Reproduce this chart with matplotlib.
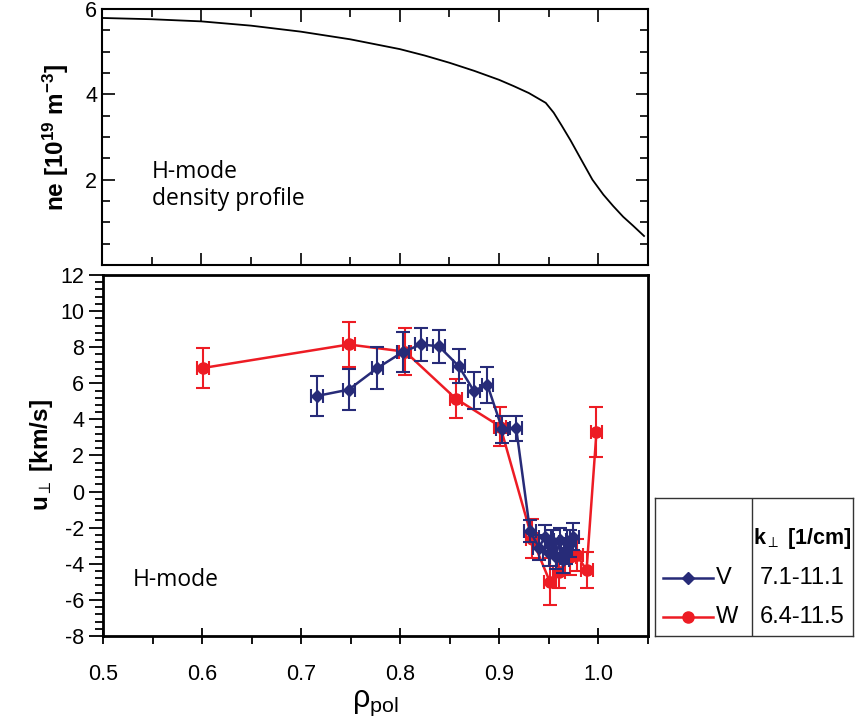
import matplotlib
matplotlib.use("Agg")
import matplotlib.pyplot as plt
from matplotlib.ticker import MultipleLocator, FixedLocator
from matplotlib.lines import Line2D

plt.rcParams['font.family'] = ['Liberation Sans', 'DejaVu Sans']
plt.rcParams['mathtext.fontset'] = 'custom'
plt.rcParams['mathtext.rm'] = 'Liberation Sans'
plt.rcParams['mathtext.bf'] = 'Liberation Sans:bold'
plt.rcParams['mathtext.it'] = 'Liberation Sans'
plt.rcParams['axes.unicode_minus'] = False

# density profile (top panel)
rho_ne = [0.5, 0.55, 0.6, 0.65, 0.7, 0.75, 0.8, 0.825, 0.85, 0.875, 0.9, 0.915, 0.93, 0.947,
          0.955, 0.963, 0.972, 0.982, 0.994, 1.005, 1.015, 1.025, 1.035, 1.046]
ne = [5.79, 5.76, 5.71, 5.61, 5.47, 5.29, 5.06, 4.91, 4.74, 4.55, 4.34, 4.19, 4.03, 3.8,
      3.57, 3.27, 2.92, 2.5, 2.0, 1.65, 1.38, 1.13, 0.92, 0.68]

# V channel
rho_v = [0.716, 0.748, 0.777, 0.803, 0.821, 0.839, 0.859, 0.874, 0.888, 0.903, 0.917,
         0.931, 0.940, 0.946, 0.950, 0.954, 0.957, 0.961, 0.964, 0.967, 0.971, 0.974]
u_v = [5.3, 5.65, 6.85, 7.75, 8.15, 8.05, 6.95, 5.6, 5.9, 3.45, 3.5,
       -2.2, -3.1, -2.5, -3.4, -2.8, -3.6, -2.7, -3.8, -3.3, -2.9, -2.5]
err_v = [1.1, 1.15, 1.15, 1.1, 0.9, 0.9, 0.95, 1.0, 1.0, 0.75, 0.7,
         0.6, 0.7, 0.65, 0.7, 0.7, 0.7, 0.7, 0.7, 0.7, 0.75, 0.75]

# W channel
rho_w = [0.601, 0.748, 0.805, 0.856, 0.901, 0.933, 0.951, 0.960, 0.971, 0.978, 0.988, 0.998]
u_w = [6.85, 8.15, 7.75, 5.15, 3.6, -2.6, -5.0, -4.45, -3.6, -3.5, -4.35, 3.3]
err_w = [1.1, 1.25, 1.3, 1.1, 1.1, 1.1, 1.3, 0.9, 1.0, 0.9, 1.0, 1.4]
rho_err = 0.006

blue = '#272b78'
red = '#ed1c24'

fig = plt.figure(figsize=(8.56, 7.26), dpi=100)
W, H = 856, 726


def px_axes(l, t, r, b):
    return fig.add_axes([l / W, 1 - b / H, (r - l) / W, (b - t) / H])


# ---- top panel
ax1 = px_axes(102, 9, 648, 265)
ax1.plot(rho_ne, ne, color='black', lw=1.3)
ax1.set_xlim(0.5, 1.05)
ax1.set_ylim(0, 6)
ax1.xaxis.set_major_locator(MultipleLocator(0.1))
ax1.xaxis.set_minor_locator(MultipleLocator(0.05))
ax1.yaxis.set_major_locator(FixedLocator([2, 4, 6]))
ax1.yaxis.set_minor_locator(MultipleLocator(0.5))
ax1.tick_params(which='both', direction='in', top=True, right=True,
                labelbottom=False, labelsize=15.5, width=1.2)
ax1.tick_params(which='major', length=9)
ax1.tick_params(which='minor', length=6)
for s in ax1.spines.values():
    s.set_linewidth(1.5)
ax1.set_ylabel(r'ne [10$^{\mathbf{19}}$ m$^{\mathbf{-3}}$]', fontsize=17.5,
               fontweight='bold', labelpad=10)
ax1.text(0.092, 0.41, 'H-mode\ndensity profile', transform=ax1.transAxes,
         family='Open Sans', fontsize=16.5, va='top', ha='left', linespacing=1.15)

# ---- bottom panel
ax2 = px_axes(103, 275, 648, 636)
ax2.errorbar(rho_v, u_v, yerr=err_v, xerr=rho_err, color=blue, marker='D', ms=6.5,
             lw=1.8, elinewidth=1.5, capsize=5, capthick=1.5, zorder=3)
ax2.errorbar(rho_w, u_w, yerr=err_w, xerr=rho_err, color=red, marker='o', ms=8,
             lw=1.8, elinewidth=1.5, capsize=5, capthick=1.5, zorder=2)
ax2.set_xlim(0.5, 1.05)
ax2.set_ylim(-8, 12)
ax2.xaxis.set_major_locator(MultipleLocator(0.1))
ax2.xaxis.set_minor_locator(MultipleLocator(0.05))
ax2.yaxis.set_major_locator(MultipleLocator(2))
ax2.yaxis.set_minor_locator(MultipleLocator(0.4))
ax2.xaxis.set_major_formatter(plt.FuncFormatter(lambda v, p: f'{v:.1f}'))
ax2.tick_params(which='both', labelsize=15.5, width=1.3)
ax2.tick_params(axis='x', which='major', direction='inout', length=12, pad=14)
ax2.tick_params(axis='x', which='minor', direction='out', length=6)
ax2.tick_params(axis='y', which='major', direction='out', length=10)
ax2.tick_params(axis='y', which='minor', direction='out', length=6)
for s in ax2.spines.values():
    s.set_linewidth(2)
ax2.set_ylabel(r'u$_{\perp}$ [km/s]', fontsize=17.5, fontweight='bold', labelpad=4)
ax2.set_xlabel(r'$\mathregular{\rho_{pol}}$', fontsize=22, labelpad=2)
ax2.text(0.055, 0.155, 'H-mode', transform=ax2.transAxes, family='Open Sans',
         fontsize=16.5, va='center', ha='left')

# ---- legend table
lax = px_axes(655, 498, 853, 636)
lax.set_xlim(0, 1)
lax.set_ylim(0, 1)
lax.set_xticks([])
lax.set_yticks([])
for s in lax.spines.values():
    s.set_linewidth(1)
    s.set_color('#333333')
lax.axvline(0.488, color='#333333', lw=1)
lax.text(0.745, 0.71, r'k$_{\perp}$ [1/cm]', fontsize=15.5, fontweight='bold',
         ha='center', va='center')
rows = [(blue, 'D', 6, 'V', '7.1-11.1', 0.42), (red, 'o', 8, 'W', '6.4-11.5', 0.14)]
for c, m, ms, name, krange, yy in rows:
    lax.add_line(Line2D([0.04, 0.295], [yy, yy], color=c, lw=1.8))
    lax.add_line(Line2D([0.167], [yy], color=c, marker=m, ms=ms))
    lax.text(0.31, yy, name, fontsize=17, ha='left', va='center')
    lax.text(0.745, yy, krange, fontsize=17, ha='center', va='center')

fig.savefig('out.png', dpi=100)
